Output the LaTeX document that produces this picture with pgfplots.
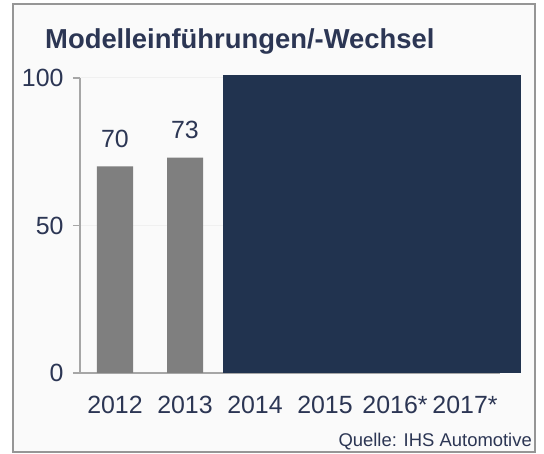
\documentclass[border=0pt]{standalone}
\usepackage{pgfplots}
\pgfplotsset{compat=1.18}
\usepackage{fontspec}
\setmainfont{Liberation Sans}

\definecolor{txt}{RGB}{44,54,84}
\definecolor{navy}{RGB}{33,51,79}
\definecolor{bargray}{RGB}{127,127,127}
\definecolor{axgray}{RGB}{166,166,166}
\definecolor{framegray}{RGB}{150,150,150}
\definecolor{bg}{RGB}{250,250,250}

\begin{document}
\begin{tikzpicture}[x=1bp,y=1bp]
\path[use as bounding box] (-80,-81) rectangle (464,373);
\draw[framegray, line width=2bp, fill=bg] (-67,-79) rectangle (455,369);
\node[anchor=base west, inner sep=0pt, text=txt,
      font=\fontsize{27.5}{32}\selectfont\bfseries] at (-35,324) {Modelleinführungen/-Wechsel};
\node[anchor=base east, inner sep=0pt, text=txt,
      font=\fontsize{18.5}{22}\selectfont] at (452,-74) {Quelle: IHS Automotive};

\begin{axis}[
    at={(0,0)}, anchor=south west,
    width=420bp, height=295bp, scale only axis,
    xmin=-0.5, xmax=5.5, ymin=0, ymax=100,
    clip=false,
    axis lines=left,
    axis line style={-, axgray, line width=1.5bp},
    xtick={0,...,5},
    xticklabels={2012,2013,2014,2015,2016*,2017*},
    ytick={0,50,100},
    tick align=outside,
    major tick length=7bp,
    x tick style={draw=none},
    y tick style={axgray, line width=1.5bp},
    ymajorgrids,
    grid style={black!6, line width=1bp},
    tick label style={font=\fontsize{25}{29}\selectfont, text=txt},
    xticklabel style={yshift=-13bp},
    yticklabel style={xshift=-6bp},
    /pgf/number format/assume math mode=true,
]
\addplot[ybar, bar width=36bp, bar shift=0pt, fill=bargray, draw=none,
    nodes near coords,
    every node near coord/.append style={font=\fontsize{25}{29}\selectfont,
        text=txt, inner sep=0pt, anchor=south, yshift=19bp}]
    coordinates {(0,70) (1,73)};
% dark panel covering the later years
\addplot[draw=none, fill=navy] coordinates {(1.54,101) (5.8,101)} \closedcycle;
\end{axis}
\end{tikzpicture}
\end{document}
